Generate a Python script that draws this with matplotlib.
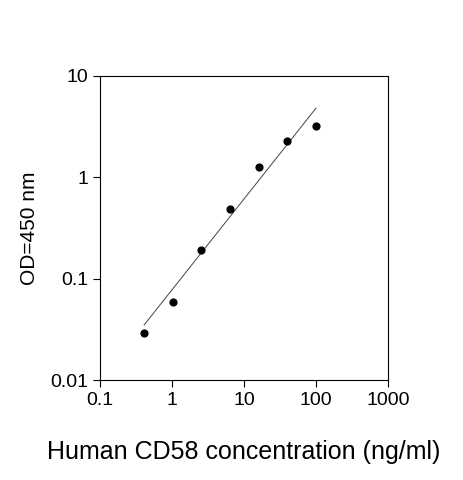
import matplotlib.pyplot as plt
import numpy as np

conc = [0.41, 1.02, 2.56, 6.4, 16, 40, 100]
od = [0.029, 0.059, 0.19, 0.49, 1.27, 2.3, 3.2]
fit_x = [0.41, 100]
fit_y = [0.035, 4.8]

plt.rcParams['font.family'] = ['Liberation Sans', 'DejaVu Sans']
fig = plt.figure(figsize=(4.63, 4.8), dpi=100)
ax = fig.add_axes([0.216, 0.208, 0.622, 0.634])

ax.plot(fit_x, fit_y, color='#444444', lw=0.7)
ax.scatter(conc, od, s=24, color='black', zorder=3)
ax.set_xscale('log')
ax.set_yscale('log')
ax.set_xlim(0.1, 1000)
ax.set_ylim(0.01, 10)
ax.set_xticks([0.1, 1, 10, 100, 1000])
ax.set_xticklabels(['0.1', '1', '10', '100', '1000'])
ax.set_yticks([0.01, 0.1, 1, 10])
ax.set_yticklabels(['0.01', '0.1', '1', '10'])
ax.minorticks_off()
ax.tick_params(labelsize=14, length=5, direction='out')
ax.set_xlabel('Human CD58 concentration (ng/ml)', fontsize=18, labelpad=22)
ax.set_ylabel('OD=450 nm', fontsize=15, labelpad=8)

fig.savefig('out.png')
